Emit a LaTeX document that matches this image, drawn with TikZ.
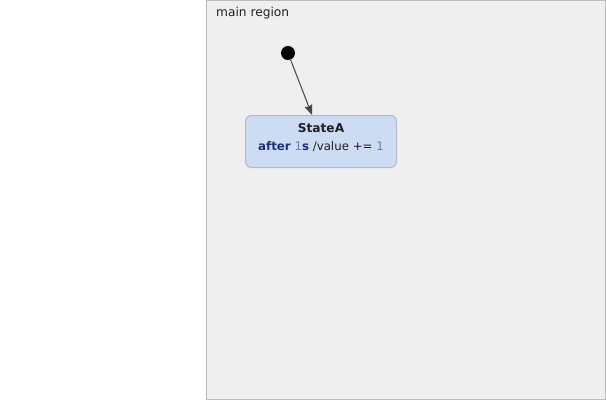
\documentclass[tikz,border=0pt]{standalone}
\usepackage{fontspec}
\setmainfont{DejaVu Sans}
\usetikzlibrary{arrows.meta}
\definecolor{regfill}{HTML}{EFEFEF}
\definecolor{regborder}{HTML}{BDBDBD}
\definecolor{statefill}{HTML}{CCDCF2}
\definecolor{stateborder}{HTML}{AEBCCF}
\definecolor{kw}{HTML}{1F2F7F}
\definecolor{num}{HTML}{6B7FA6}
\definecolor{op}{HTML}{2A1040}
\definecolor{txt}{HTML}{202020}
\tikzset{
  region/.style={draw=regborder, fill=regfill, line width=1pt},
  statebox/.style={draw=stateborder, fill=statefill, line width=1pt, rounded corners=6pt},
  initdot/.style={circle, fill=black, minimum size=14pt, inner sep=0pt},
  trans/.style={draw=black!72, line width=1pt, -{Stealth[length=10pt,width=8pt,inset=1pt]}},
  lbl/.style={font=\fontsize{12.2}{14}\selectfont, text=txt, inner sep=0pt}
}
\begin{document}
\begin{tikzpicture}[x=1pt,y=-1pt]
\useasboundingbox (0,0) rectangle (606,400);
\fill[white] (0,0) rectangle (606,400);
\draw[region] (206.5,0.5) rectangle (605.5,399.5);
\node[lbl, anchor=west] (title) at (216,13) {main region};
\draw[statebox] (245.5,115.5) rectangle (396.5,167.5);
\coordinate (statetop) at (312,115);
\node[lbl, font=\fontsize{12.2}{14}\selectfont\bfseries] (sname) at (321,128) {StateA};
\node[lbl, font=\fontsize{11.8}{14}\selectfont] (sbody) at (321,147) {\textcolor{kw}{\bfseries after} \textcolor{num}{1}\textcolor{kw}{\bfseries s} /value \textcolor{op}{+=} \textcolor{num}{1}};
\node[initdot] (init) at (288,53) {};
\draw[trans] (init) -- (statetop);
\end{tikzpicture}
\end{document}
